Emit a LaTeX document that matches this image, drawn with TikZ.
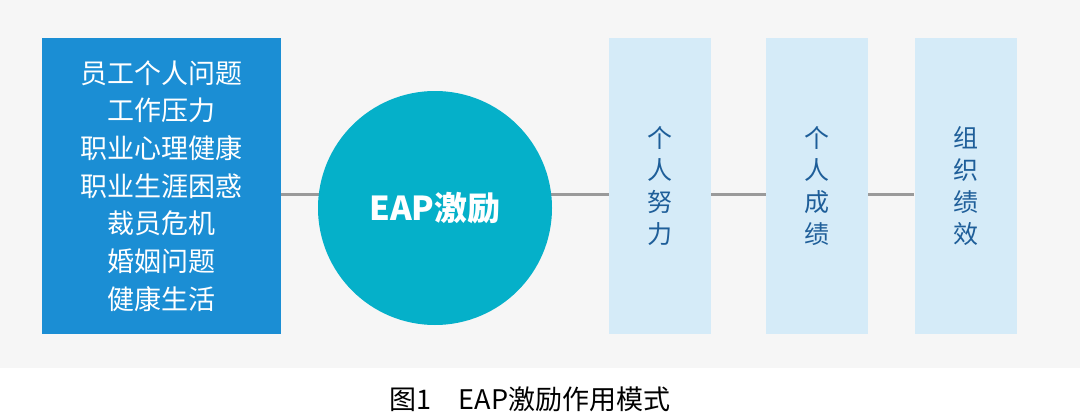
\documentclass[tikz,border=0pt]{standalone}
\usepackage{fontspec}
\setmainfont{Noto Sans CJK SC}
\usetikzlibrary{positioning,backgrounds}
\definecolor{paper}{HTML}{F6F6F6}
\definecolor{causeblue}{HTML}{1B8ED4}
\definecolor{eapcyan}{HTML}{05B0C9}
\definecolor{stagefill}{HTML}{D5EBF8}
\definecolor{stagetext}{HTML}{1E5E99}
\definecolor{linkgray}{HTML}{9A9A9A}
\begin{document}
\begin{tikzpicture}[x=1pt,y=-1pt,
  causebox/.style={fill=causeblue,minimum width=239pt,minimum height=296pt,
    text=white,align=center,font=\fontsize{27}{37.7}\selectfont},
  eapcircle/.style={circle,fill=eapcyan,minimum size=234pt,inner sep=0pt,
    text=white,font=\fontsize{33}{40}\selectfont\bfseries},
  stagebox/.style={fill=stagefill,minimum width=102pt,minimum height=296pt,
    text=stagetext,align=center,font=\fontsize{25}{31.7}\selectfont},
  link/.style={linkgray,line width=3pt}]
\useasboundingbox (0,0) rectangle (1080,415);
\node[causebox] (cause) at (161.5,186) {员工个人问题\\工作压力\\职业心理健康\\职业生涯困惑\\裁员危机\\婚姻问题\\健康生活};
\node[eapcircle] (eap) at (435,208) {EAP激励};
\node[stagebox] (effort) at (660,186) {个\\人\\努\\力};
\node[stagebox] (result) at (817,186) {个\\人\\成\\绩};
\node[stagebox] (org) at (965.5,186) {组\\织\\绩\\效};
\node[font=\fontsize{27}{30}\selectfont] (caption) at (530,399) {图1\hspace{1em}EAP激励作用模式};
% background and connectors behind the nodes
\begin{scope}[on background layer]
\fill[white] (0,0) rectangle (1080,415);
\fill[paper] (0,0) rectangle (1080,368);
\draw[link] ([yshift=-8pt]cause.east) -- ([yshift=-8pt]cause.east -| eap.center);
\draw[link] ([yshift=-8pt]effort.west -| eap.center) -- ([yshift=-8pt]effort.west);
\draw[link] ([yshift=-8pt]effort.east) -- ([yshift=-8pt]result.west);
\draw[link] ([yshift=-8pt]result.east) -- ([yshift=-8pt]org.west);
\end{scope}
\end{tikzpicture}
\end{document}
